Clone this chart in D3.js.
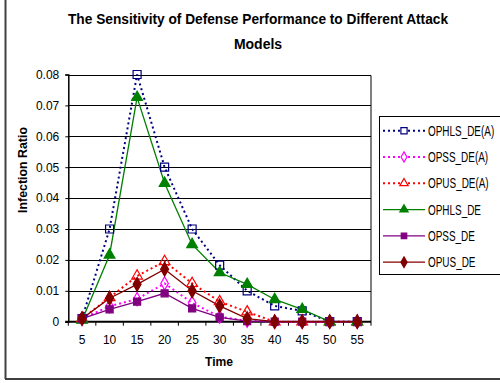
<!DOCTYPE html>
<html>
<head>
<meta charset="utf-8">
<script src="https://cdn.jsdelivr.net/npm/d3@7"></script>
<style>
  html, body { margin: 0; padding: 0; background: #fff; }
  svg { display: block; }
  text { font-family: "Liberation Sans", Arial, sans-serif; fill: #000; }
</style>
</head>
<body>
<svg id="chart" width="500" height="383"></svg>
<script>
// Time steps on the category axis
const categories = ["5", "10", "15", "20", "25", "30", "35", "40", "45", "50", "55"];

// Infection ratio per series
const ophlsDeA = [0.001, 0.030, 0.080, 0.050, 0.030, 0.0183, 0.010, 0.0051, 0.0035, 0, 0];
const opssDeA  = [0.001, 0.005, 0.0073, 0.0124, 0.0061, 0.0016, 0.0003, 0, 0, 0, 0];
const opusDeA  = [0.001, 0.0078, 0.0148, 0.0195, 0.0124, 0.0065, 0.0032, 0, 0, 0, 0];
const ophlsDe  = [0.0005, 0.0216, 0.0726, 0.0448, 0.025, 0.0159, 0.0121, 0.0072, 0.004, 0, 0];
const opssDe   = [0.001, 0.004, 0.0065, 0.0092, 0.0043, 0.0014, 0.0002, 0, 0, 0, 0];
const opusDe   = [0.001, 0.0076, 0.0121, 0.017, 0.010, 0.0051, 0.001, 0, 0, 0, 0];

const seriesNames = ["OPHLS_DE(A)", "OPSS_DE(A)", "OPUS_DE(A)", "OPHLS_DE", "OPSS_DE", "OPUS_DE"];

// Y axis ticks and their labels
const yTicks = [0, 0.01, 0.02, 0.03, 0.04, 0.05, 0.06, 0.07, 0.08];
const yTickLabels = ["0", "0.01", "0.02", "0.03", "0.04", "0.05", "0.06", "0.07", "0.08"];

const titleLines = ["The Sensitivity of Defense Performance to Different Attack", "Models"];

// Visual style per series: colour, dash, marker shape, filled or hollow
const styles = [
  { color: "#000080", dash: "2,3", shape: d3.symbolSquare,   filled: false, size: 64 },
  { color: "#FF00FF", dash: "2,3", shape: d3.symbolDiamond,  filled: false, size: 50 },
  { color: "#FF0000", dash: "2,3", shape: d3.symbolTriangle, filled: false, size: 50 },
  { color: "#008000", dash: null,  shape: d3.symbolTriangle, filled: true,  size: 50 },
  { color: "#800080", dash: null,  shape: d3.symbolSquare,   filled: true,  size: 50 },
  { color: "#800000", dash: null,  shape: d3.symbolDiamond,  filled: true,  size: 55 }
];

const seriesValues = [ophlsDeA, opssDeA, opusDeA, ophlsDe, opssDe, opusDe];
const series = seriesNames.map((name, i) => ({ name, values: seriesValues[i], style: styles[i] }));

const svg = d3.select("#chart");

// Outer chart frame (left and bottom edges)
svg.append("line").attr("x1", 5.5).attr("x2", 5.5).attr("y1", 0).attr("y2", 379)
  .attr("stroke", "#404040").attr("stroke-width", 2);
svg.append("line").attr("x1", 5).attr("x2", 500).attr("y1", 379).attr("y2", 379)
  .attr("stroke", "#404040").attr("stroke-width", 2);

// Plot area
const plot = { left: 68.3, right: 371, top: 74.5, bottom: 321.7 };

const x = d3.scaleBand().domain(categories).range([plot.left, plot.right]).paddingInner(0).paddingOuter(0);
const y = d3.scaleLinear().domain([0, 0.08]).range([plot.bottom, plot.top]);
const cx = d => x(d) + x.bandwidth() / 2;

// Gridlines
svg.append("g").selectAll("line").data(yTicks.filter(t => t > 0)).join("line")
  .attr("x1", plot.left).attr("x2", plot.right)
  .attr("y1", d => Math.round(y(d)) + 0.5).attr("y2", d => Math.round(y(d)) + 0.5)
  .attr("stroke", "#000").attr("stroke-width", 1);

// Right border of plot area
svg.append("line").attr("x1", plot.right).attr("x2", plot.right)
  .attr("y1", Math.round(y(0.08)) + 0.5).attr("y2", plot.bottom)
  .attr("stroke", "#000").attr("stroke-width", 1);

// Y axis
const yAxis = d3.axisLeft(y).tickValues(yTicks)
  .tickFormat((d, i) => yTickLabels[i]).tickSize(3).tickPadding(6);
const gy = svg.append("g").attr("transform", `translate(${plot.left},0)`).call(yAxis);
gy.select(".domain").attr("stroke", "#000").attr("stroke-width", 1.5);
gy.selectAll(".tick line").attr("stroke", "#000");
gy.selectAll(".tick text").attr("font-size", 12).attr("font-family", "Liberation Sans, Arial, sans-serif").attr("fill", "#000");

// X axis: labels at band centres, tick marks at band boundaries
const xAxis = d3.axisBottom(x).tickSize(0).tickPadding(14);
const gx = svg.append("g").attr("transform", `translate(0,${plot.bottom})`).call(xAxis);
gx.select(".domain").remove();
gx.selectAll(".tick text").attr("font-size", 12).attr("font-family", "Liberation Sans, Arial, sans-serif").attr("fill", "#000");

const boundaries = d3.range(categories.length + 1).map(i => plot.left + i * x.step());
svg.append("g").selectAll("line").data(boundaries).join("line")
  .attr("x1", d => d).attr("x2", d => d)
  .attr("y1", plot.bottom).attr("y2", plot.bottom + 4)
  .attr("stroke", "#000").attr("stroke-width", 1);
svg.append("line").attr("x1", plot.left - 3).attr("x2", plot.right)
  .attr("y1", plot.bottom).attr("y2", plot.bottom)
  .attr("stroke", "#000").attr("stroke-width", 2);

// Series lines
const line = d3.line().x((d, i) => cx(categories[i])).y(d => y(d));
series.forEach(s => {
  svg.append("path").datum(s.values)
    .attr("d", line)
    .attr("fill", "none")
    .attr("stroke", s.style.color)
    .attr("stroke-width", s.style.dash ? 2 : 1.3)
    .attr("stroke-dasharray", s.style.dash);
});

// Series markers
const symbolPath = st => d3.symbol().type(st.shape).size(st.size)();
series.forEach(s => {
  svg.append("g").selectAll("path").data(s.values).join("path")
    .attr("d", symbolPath(s.style))
    .attr("transform", (d, i) => `translate(${cx(categories[i])},${y(d)})`)
    .attr("fill", s.style.filled ? s.style.color : "none")
    .attr("stroke", s.style.color)
    .attr("stroke-width", 1.2);
});

// Title
svg.append("text").attr("x", 258).attr("y", 23.5).attr("text-anchor", "middle")
  .attr("font-size", 14).attr("font-weight", "bold")
  .attr("textLength", 380).attr("lengthAdjust", "spacingAndGlyphs")
  .text(titleLines[0]);
svg.append("text").attr("x", 258).attr("y", 48.5).attr("text-anchor", "middle")
  .attr("font-size", 14).attr("font-weight", "bold").text(titleLines[1]);

// Axis titles
svg.append("text").attr("transform", "translate(27,170) rotate(-90)")
  .attr("text-anchor", "middle").attr("font-size", 13).attr("font-weight", "bold")
  .attr("textLength", 86).attr("lengthAdjust", "spacingAndGlyphs")
  .text("Infection Ratio");
svg.append("text").attr("x", 219).attr("y", 366).attr("text-anchor", "middle")
  .attr("font-size", 13).attr("font-weight", "bold")
  .attr("textLength", 28).attr("lengthAdjust", "spacingAndGlyphs")
  .text("Time");

// Legend
const legend = { left: 379.5, top: 116.5, bottom: 274.5, rowGap: 26.3, firstRow: 130.7 };
svg.append("rect").attr("x", legend.left).attr("y", legend.top)
  .attr("width", 130).attr("height", legend.bottom - legend.top)
  .attr("fill", "#fff").attr("stroke", "#000").attr("stroke-width", 1);

const lg = svg.append("g").selectAll("g").data(series).join("g")
  .attr("transform", (d, i) => `translate(0,${legend.firstRow + i * legend.rowGap})`);
lg.append("line").attr("x1", 383).attr("x2", 425).attr("y1", 0).attr("y2", 0)
  .attr("stroke", d => d.style.color)
  .attr("stroke-width", d => d.style.dash ? 2 : 1.3)
  .attr("stroke-dasharray", d => d.style.dash);
lg.append("path")
  .attr("d", d => d3.symbol().type(d.style.shape).size(d.style.size * 0.6)())
  .attr("transform", "translate(404,0)")
  .attr("fill", d => d.style.filled ? d.style.color : "#fff")
  .attr("stroke", d => d.style.color).attr("stroke-width", 1.2);
// Legend labels: tall, condensed lettering
lg.append("text")
  .attr("transform", "translate(428,5) scale(0.71,1)")
  .attr("font-size", 14)
  .text(d => d.name);
</script>
</body>
</html>
